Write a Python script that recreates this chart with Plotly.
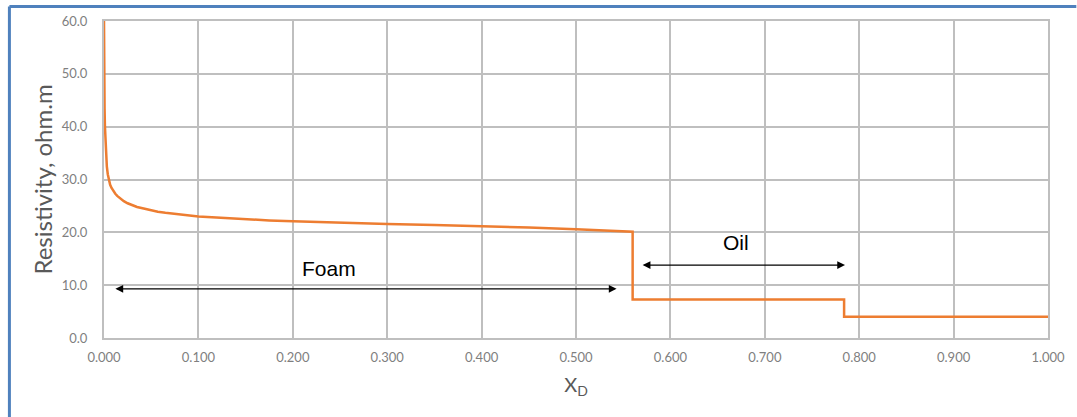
import plotly.graph_objects as go

# Data
xd = [0.0, 0.0, 0.0003, 0.0006, 0.001, 0.0015, 0.002, 0.003, 0.004, 0.005, 0.0065, 0.008,
      0.010, 0.012, 0.014, 0.017, 0.021, 0.025, 0.030, 0.035, 0.042, 0.049, 0.057, 0.065,
      0.074, 0.083, 0.100, 0.119, 0.136, 0.154, 0.175, 0.200, 0.250, 0.300, 0.350, 0.400,
      0.450, 0.500, 0.530, 0.560, 0.560, 0.784, 0.784, 1.000]
resistivity = [60.0, 54.0, 48.0, 43.5, 40.0, 37.0, 35.0, 32.5, 31.0, 30.0, 29.0, 28.4,
               27.8, 27.3, 26.9, 26.4, 25.9, 25.5, 25.1, 24.8, 24.5, 24.2, 23.9, 23.7,
               23.5, 23.3, 23.0, 22.8, 22.6, 22.4, 22.25, 22.1, 21.8, 21.6, 21.4, 21.2,
               20.9, 20.6, 20.35, 20.1, 7.3, 7.3, 4.0, 4.0]

x_ticks = [0.0, 0.1, 0.2, 0.3, 0.4, 0.5, 0.6, 0.7, 0.8, 0.9, 1.0]
y_ticks = [0, 10, 20, 30, 40, 50, 60]

foam_arrow = (0.0105, 0.543, 9.3)
oil_arrow = (0.569, 0.785, 13.8)
foam_label = (0.238, 13.2, "Foam")
oil_label = (0.669, 18.0, "Oil")

fig = go.Figure()
fig.add_trace(go.Scatter(x=xd, y=resistivity, mode="lines",
                         line=dict(color="#ED7D31", width=2.5), showlegend=False))

grid = "#BFBFBF"
font_fam = "Lato, Liberation Sans, sans-serif"
tickfont = dict(family=font_fam, size=13, color="#7F7F7F")
fig.update_xaxes(range=[0, 1], tickvals=x_ticks, tickformat=".3f", showgrid=True,
                 gridcolor=grid, gridwidth=2, showline=True, linecolor=grid, linewidth=2,
                 mirror=True, zeroline=False, tickfont=tickfont, ticklabelstandoff=6,
                 title=dict(text="X<sub>D</sub>", font=dict(family=font_fam, size=20, color="#595959"),
                            standoff=14))
fig.update_yaxes(range=[0, 60], tickvals=y_ticks, tickformat=".1f", showgrid=True,
                 gridcolor=grid, gridwidth=2, showline=True, linecolor=grid, linewidth=2,
                 mirror=True, zeroline=False, tickfont=tickfont, ticklabelstandoff=12,
                 title=dict(text="Resistivity, ohm.m", font=dict(family=font_fam, size=24, color="#595959"),
                            standoff=2))

for (x0, x1, y) in [foam_arrow, oil_arrow]:
    fig.add_annotation(x=x1, y=y, ax=x0, ay=y, xref="x", yref="y", axref="x", ayref="y",
                       text="", showarrow=True, arrowhead=2, startarrowhead=2,
                       arrowside="end+start", arrowsize=1.3, startarrowsize=1.3,
                       arrowwidth=1.2, arrowcolor="#000000")
for (x, y, t) in [foam_label, oil_label]:
    fig.add_annotation(x=x, y=y, xref="x", yref="y", text=t, showarrow=False,
                       font=dict(family="Liberation Sans, Arial, sans-serif", size=21, color="#000000"))

# blue frame (left and top edges)
frame = "#4F81BD"
fig.add_shape(type="line", xref="paper", yref="paper", x0=-0.1002, x1=-0.1002, y0=-0.26, y1=1.046,
              line=dict(color=frame, width=3))
fig.add_shape(type="line", xref="paper", yref="paper", x0=-0.1002, x1=1.03, y0=1.046, y1=1.046,
              line=dict(color=frame, width=3))

fig.update_layout(width=1077, height=417, margin=dict(l=104, r=25, t=21, b=79),
                  plot_bgcolor="white", paper_bgcolor="white")

fig.write_html("out.html")
